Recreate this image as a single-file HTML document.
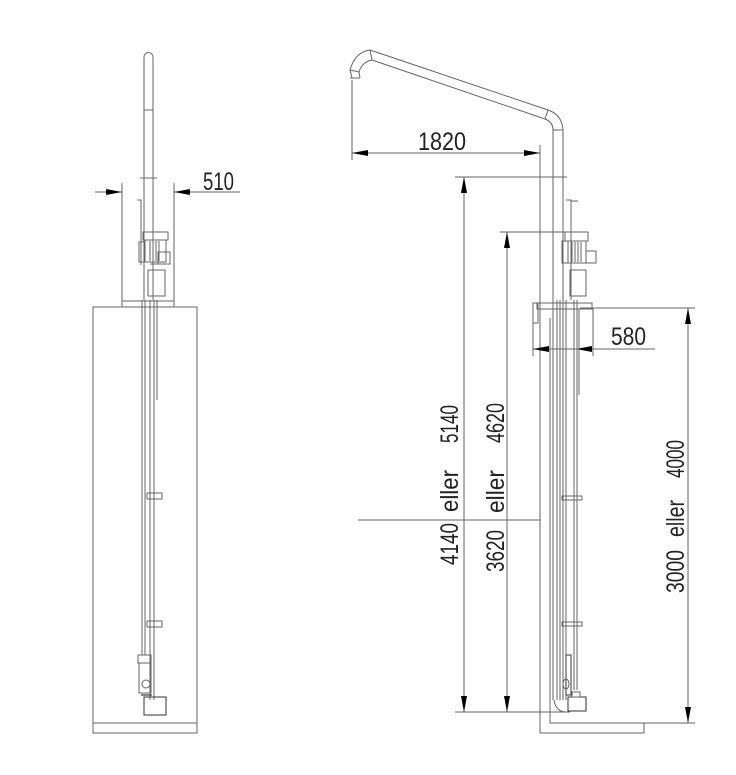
<!DOCTYPE html>
<html><head><meta charset="utf-8"><style>
html,body{margin:0;padding:0;background:#fff;}
svg{display:block;}
text{font-family:"Liberation Sans Narrow","Liberation Sans",sans-serif;fill:#222;font-size:25px;}
</style></head><body>
<svg width="736" height="775" viewBox="0 0 736 775" xmlns="http://www.w3.org/2000/svg">
<defs>
<marker id="a" viewBox="0 0 16 6" refX="16" refY="3" markerWidth="16" markerHeight="6" markerUnits="userSpaceOnUse" orient="auto"><path d="M0,0L16,3L0,6Z" fill="#000"/></marker>
</defs>
<g fill="none" stroke="#666" stroke-width="1">
<rect x="93" y="307" width="104" height="426"/>
<line x1="93" y1="723" x2="197" y2="723"/>
<rect x="122" y="301" width="52" height="6"/>
<path d="M144,300 V57 A4.5,4.5 0 0 1 153,57 V300"/>
<line x1="144" y1="110" x2="153" y2="110"/>
<line x1="140" y1="178" x2="157" y2="178"/>
<line x1="122" y1="183" x2="122" y2="301"/>
<line x1="174" y1="183" x2="174" y2="301"/>
<line x1="95" y1="192" x2="122" y2="192" marker-end="url(#a)"/>
<line x1="240" y1="192" x2="174" y2="192" marker-end="url(#a)"/>
<path d="M137,200 H141 V265"/>
<rect x="143" y="232" width="25" height="8"/>
<rect x="145" y="240" width="21" height="22"/>
<line x1="150" y1="241" x2="150" y2="261"/><line x1="153" y1="241" x2="153" y2="261"/><line x1="156" y1="241" x2="156" y2="261"/><line x1="159" y1="241" x2="159" y2="261"/>
<rect x="158" y="252" width="12" height="12"/>
<rect x="139" y="242" width="6" height="20"/>
<rect x="148" y="270" width="17" height="26"/>
<line x1="150" y1="264" x2="163" y2="264"/>
<line x1="142" y1="300" x2="142" y2="655"/>
<line x1="145" y1="300" x2="145" y2="655"/>
<line x1="150" y1="300" x2="150" y2="700"/>
<line x1="154" y1="300" x2="154" y2="700"/>
<line x1="157" y1="300" x2="157" y2="400"/>
<rect x="147" y="493" width="15" height="6"/>
<rect x="147" y="621" width="15" height="6"/>
<rect x="138" y="655" width="13" height="8"/>
<rect x="139" y="663" width="12" height="30"/>
<circle cx="146" cy="684" r="4"/>
<rect x="144" y="697" width="22" height="18" stroke="#333"/>
<line x1="141" y1="695" x2="152" y2="695" stroke="#111"/>

<path d="M352,78 L350,70 Q355,52 370,50 L548,110 Q563,115 563,132 V700"/>
<path d="M360,78 L359,72 Q362,62 372,60 L545,119 Q553,122 553,130 V700"/>
<line x1="350" y1="70" x2="359" y2="72"/>
<line x1="370" y1="50" x2="372" y2="60"/>
<line x1="545" y1="119" x2="548" y2="110"/>
<line x1="553" y1="130" x2="563" y2="130"/>
<line x1="350" y1="78" x2="360" y2="78"/>
<line x1="352" y1="80" x2="352" y2="160"/>
<line x1="540" y1="145" x2="540" y2="733"/>
<line x1="352" y1="153" x2="540" y2="153"/>
<line x1="380" y1="153" x2="352" y2="153" marker-end="url(#a)"/>
<line x1="510" y1="153" x2="540" y2="153" marker-end="url(#a)"/>
<path d="M540,733 H644 V723"/>
<path d="M550,318 V723 H695"/>
<line x1="358" y1="520" x2="540" y2="520"/>
<line x1="455" y1="177" x2="567" y2="177"/>
<line x1="500" y1="232" x2="565" y2="232"/>
<line x1="455" y1="712" x2="570" y2="712"/>
<line x1="580" y1="308" x2="695" y2="308"/>
<line x1="464" y1="177" x2="464" y2="712"/>
<path d="M464,200 L464,177" marker-end="url(#a)"/>
<path d="M464,690 L464,712" marker-end="url(#a)"/>
<line x1="507" y1="232" x2="507" y2="712"/>
<path d="M507,255 L507,232" marker-end="url(#a)"/>
<path d="M507,690 L507,712" marker-end="url(#a)"/>
<line x1="688" y1="308" x2="688" y2="723"/>
<path d="M688,330 L688,308" marker-end="url(#a)"/>
<path d="M688,700 L688,723" marker-end="url(#a)"/>
<line x1="533" y1="320" x2="533" y2="356"/>
<line x1="593" y1="308" x2="593" y2="356"/>
<line x1="533" y1="349" x2="655" y2="349"/>
<path d="M555,349 L533,349" marker-end="url(#a)"/>
<path d="M598,349 L576,349" marker-end="url(#a)"/>
<rect x="537" y="303" width="55" height="6"/>
<rect x="533" y="303" width="5" height="20"/>
<path d="M566,200 H571 V300"/>
<path d="M571,201 H578"/>
<rect x="565" y="232" width="23" height="9"/>
<rect x="568" y="241" width="18" height="22"/>
<line x1="572" y1="242" x2="572" y2="262"/><line x1="575" y1="242" x2="575" y2="262"/><line x1="578" y1="242" x2="578" y2="262"/><line x1="581" y1="242" x2="581" y2="262"/>
<rect x="586" y="251" width="10" height="12"/>
<rect x="562" y="241" width="6" height="22"/>
<rect x="570" y="270" width="16" height="26"/>
<line x1="557" y1="300" x2="557" y2="700"/>
<line x1="560" y1="300" x2="560" y2="700"/>
<line x1="566" y1="300" x2="566" y2="700"/>
<line x1="574" y1="300" x2="574" y2="690"/>
<line x1="577" y1="300" x2="577" y2="690"/>
<line x1="579" y1="309" x2="579" y2="395"/>
<rect x="562" y="496" width="20" height="4"/>
<rect x="562" y="622" width="20" height="4"/>
<rect x="566" y="655" width="5" height="40" stroke="#333"/>
<ellipse cx="566" cy="684" rx="3" ry="5"/>
<path d="M554,700 Q556,712 566,712"/>
<rect x="568" y="697" width="18" height="14" stroke="#333"/>
<rect x="572" y="692" width="8" height="5"/>
</g>
<text x="203" y="190" textLength="31" lengthAdjust="spacingAndGlyphs">510</text>
<text x="418" y="150" textLength="48" lengthAdjust="spacingAndGlyphs">1820</text>
<text x="611" y="345" textLength="35" lengthAdjust="spacingAndGlyphs">580</text>
<g transform="translate(458,565) rotate(-90)">
<text x="0" y="0" textLength="42" lengthAdjust="spacingAndGlyphs">4140</text>
<text x="53" y="0" textLength="42" lengthAdjust="spacingAndGlyphs">eller</text>
<text x="122" y="0" textLength="38" lengthAdjust="spacingAndGlyphs">5140</text>
</g>
<g transform="translate(504,572) rotate(-90)">
<text x="0" y="0" textLength="42" lengthAdjust="spacingAndGlyphs">3620</text>
<text x="59" y="0" textLength="43" lengthAdjust="spacingAndGlyphs">eller</text>
<text x="129" y="0" textLength="40" lengthAdjust="spacingAndGlyphs">4620</text>
</g>
<g transform="translate(684,593) rotate(-90)">
<text x="0" y="0" textLength="43" lengthAdjust="spacingAndGlyphs">3000</text>
<text x="56" y="0" textLength="37" lengthAdjust="spacingAndGlyphs">eller</text>
<text x="115" y="0" textLength="38" lengthAdjust="spacingAndGlyphs">4000</text>
</g>
</svg>
</body></html>
